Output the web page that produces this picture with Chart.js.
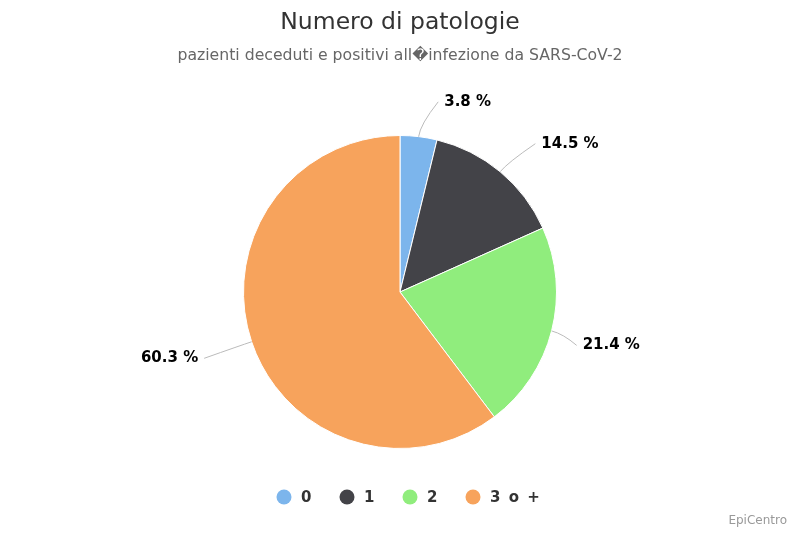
<!DOCTYPE html>
<html><head><meta charset="utf-8">
<script src="https://cdn.jsdelivr.net/npm/chart.js@4"></script>
<style>html,body{margin:0;padding:0;background:#fff}#w{width:800px;height:533px}</style>
</head><body><div id="w"><canvas id="c"></canvas></div>
<script>
const categories = ["0", "1", "2", "3 o +"];
const values = [3.8, 14.5, 21.4, 60.3];
const colors = ["#7cb5ec", "#434348", "#90ed7d", "#f7a35c"];
const titleText = "Numero di patologie";
const subtitleText = "pazienti deceduti e positivi all\uFFFDinfezione da SARS-CoV-2";
const F = "'DejaVu Sans', sans-serif";

const deco = {
  id: 'deco',
  afterDatasetsDraw(chart) {
    const ctx = chart.ctx;
    const meta = chart.getDatasetMeta(0);
    ctx.save();
    ctx.textBaseline = 'middle';
    meta.data.forEach((arc, i) => {
      const a = (arc.startAngle + arc.endAngle) / 2;
      const r = arc.outerRadius, cx = arc.x, cy = arc.y;
      const dx = Math.cos(a), dy = Math.sin(a);
      const right = dx >= 0;
      const x0 = cx + r * dx, y0 = cy + r * dy;
      const ax = cx + (r + 30) * dx, ay = cy + (r + 30) * dy + (dy > 0 ? 7 : -5);
      const off = right ? (Math.abs(dy) < 0.5 ? 2 : 22) : -25;
      const tx = ax + off;
      const ex = tx + (right ? -6 : 6);
      const mx = cx + (r + 12) * dx, my = cy + (r + 12) * dy;
      ctx.strokeStyle = '#bbbbbb'; ctx.lineWidth = 1;
      ctx.beginPath(); ctx.moveTo(x0, y0);
      ctx.quadraticCurveTo(mx, my, ex, ay); ctx.stroke();
      ctx.fillStyle = '#000'; ctx.font = 'bold 15px ' + F;
      ctx.textAlign = right ? 'left' : 'right';
      ctx.fillText(values[i].toFixed(1) + ' %', tx, ay);
    });
    ctx.textAlign = 'center';
    ctx.fillStyle = '#333333'; ctx.font = '23.5px ' + F;
    ctx.fillText(titleText, 400, 23);
    ctx.fillStyle = '#666666'; ctx.font = '15.7px ' + F;
    ctx.fillText(subtitleText, 400, 56);
    ctx.textAlign = 'right'; ctx.fillStyle = '#999999'; ctx.font = '12px ' + F;
    ctx.fillText('EpiCentro', 787, 521);
    // legend
    ctx.font = 'bold 15px ' + F; ctx.textAlign = 'left';
    ctx.letterSpacing = '1.5px';
    const xs = [277, 340, 403, 466];
    categories.forEach((c, i) => {
      ctx.fillStyle = colors[i];
      ctx.beginPath(); ctx.arc(xs[i] + 7, 497, 7.5, 0, Math.PI * 2); ctx.fill();
      ctx.fillStyle = '#333333';
      ctx.fillText(c, xs[i] + 24, 498);
    });
    ctx.restore();
  }
};

new Chart(document.getElementById('c'), {
  type: 'pie',
  data: { labels: categories, datasets: [{ data: values, backgroundColor: colors, borderColor: '#ffffff', borderWidth: 1, hoverOffset: 0 }] },
  options: {
    responsive: true, maintainAspectRatio: false, animation: false,
    layout: { padding: { top: 135, bottom: 84 } },
    plugins: { legend: { display: false }, tooltip: { enabled: false } }
  },
  plugins: [deco]
});
</script></body></html>
